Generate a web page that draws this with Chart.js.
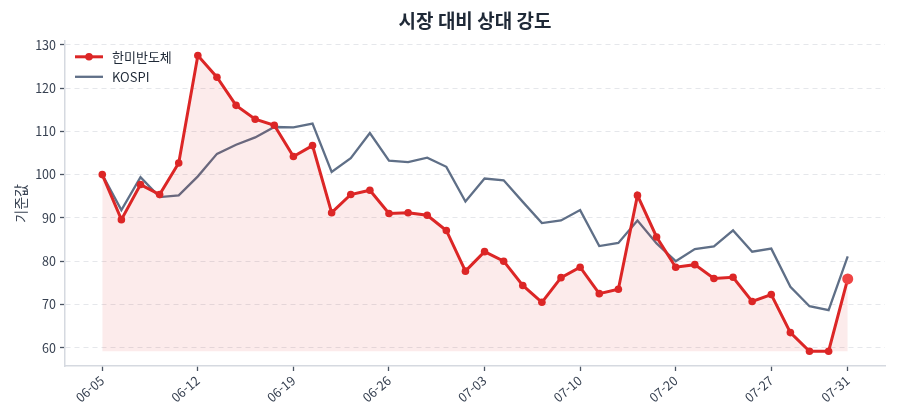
<!DOCTYPE html>
<html lang="ko">
<head>
<meta charset="utf-8">
<title>시장 대비 상대 강도</title>
<script src="https://cdn.jsdelivr.net/npm/chart.js@4.4.1/dist/chart.umd.min.js"></script>
<style>
    html, body { margin: 0; padding: 0; background: #fff; }
    #wrap { width: 900px; height: 420px; position: relative; }
</style>
</head>
<body>
<div id="wrap"><canvas id="rsChart"></canvas></div>
<script>
// 날짜 (거래일)
var dates = [
    '06-05', '06-06', '06-07', '06-10', '06-11', '06-12', '06-13', '06-14', '06-17', '06-18',
    '06-19', '06-20', '06-21', '06-24', '06-25', '06-26', '06-27', '06-28', '07-01', '07-02',
    '07-03', '07-04', '07-05', '07-08', '07-09', '07-10', '07-11', '07-12', '07-15', '07-17',
    '07-20', '07-21', '07-22', '07-23', '07-24', '07-27', '07-28', '07-29', '07-30', '07-31'
];

// 기준값 (첫날 = 100)
var hanmiValues = [
    100.0, 89.6, 97.7, 95.4, 102.7, 127.5, 122.5, 116.0, 112.8, 111.4,
    104.2, 106.7, 91.2, 95.4, 96.4, 91.0, 91.2, 90.6, 87.1, 77.7,
    82.2, 80.0, 74.4, 70.5, 76.2, 78.6, 72.5, 73.5, 95.2, 85.6,
    78.6, 79.2, 76.0, 76.3, 70.7, 72.3, 63.5, 59.2, 59.2, 75.9
];

var kospiValues = [
    100.0, 91.8, 99.4, 94.8, 95.2, 99.6, 104.8, 106.9, 108.6, 111.0,
    110.9, 111.8, 100.6, 103.8, 109.6, 103.2, 102.9, 103.9, 101.8, 93.8,
    99.1, 98.7, 93.7, 88.8, 89.4, 91.8, 83.5, 84.2, 89.4, 84.1,
    80.0, 82.8, 83.4, 87.1, 82.2, 82.9, 74.1, 69.6, 68.7, 81.1
];

var yTickValues = [60, 70, 80, 90, 100, 110, 120, 130];
var xTickIndexes = [0, 5, 10, 15, 20, 25, 30, 35, 39];

var FONT = "'Noto Sans CJK KR', 'Noto Sans', sans-serif";
var RED = '#dc2626';
var SLATE = '#5f6f87';

function toPoints(values) {
    return values.map(function (v, i) { return { x: i, y: v }; });
}

var lastIdx = hanmiValues.length - 1;
var fillBase = Math.min.apply(null, hanmiValues);
var allVals = hanmiValues.concat(kospiValues);
var dataMin = Math.min.apply(null, allVals);
var dataMax = Math.max.apply(null, allVals);
var yPad = (dataMax - dataMin) * 0.05;
var xPad = lastIdx * 0.05;

// 차트 안쪽 왼쪽 위에 범례 그리기
var innerLegend = {
    id: 'innerLegend',
    afterDraw: function (chart) {
        var ctx = chart.ctx;
        var area = chart.chartArea;
        var x0 = area.left + 10;
        var y0 = area.top + 16;
        ctx.save();
        ctx.font = '13px ' + FONT;
        ctx.textBaseline = 'middle';
        chart.data.datasets.forEach(function (ds, i) {
            var y = y0 + i * 20;
            ctx.strokeStyle = ds.borderColor;
            ctx.lineWidth = ds.borderWidth;
            ctx.beginPath();
            ctx.moveTo(x0, y);
            ctx.lineTo(x0 + 28, y);
            ctx.stroke();
            if (ds.legendDot) {
                ctx.fillStyle = ds.borderColor;
                ctx.beginPath();
                ctx.arc(x0 + 14, y, 3.8, 0, Math.PI * 2);
                ctx.fill();
            }
            ctx.fillStyle = '#1f2937';
            ctx.fillText(ds.label, x0 + 37, y);
        });
        ctx.restore();
    }
};

var ctx = document.getElementById('rsChart').getContext('2d');
window.rsChart = new Chart(ctx, {
    type: 'line',
    data: {
        datasets: [{
            label: '한미반도체',
            data: toPoints(hanmiValues),
            borderColor: RED,
            borderWidth: 3,
            backgroundColor: 'rgba(220, 38, 38, 0.09)',
            fill: { value: fillBase },
            tension: 0,
            pointRadius: hanmiValues.map(function (v, i) { return i === lastIdx ? 5.5 : 3.8; }),
            pointBackgroundColor: hanmiValues.map(function (v, i) { return i === lastIdx ? '#ef4444' : RED; }),
            pointBorderWidth: 0,
            legendDot: true
        }, {
            label: 'KOSPI',
            data: toPoints(kospiValues),
            borderColor: SLATE,
            borderWidth: 2.3,
            fill: false,
            tension: 0,
            pointRadius: 0
        }]
    },
    options: {
        responsive: true,
        maintainAspectRatio: false,
        animation: false,
        events: [],
        layout: { padding: { top: 0, right: 15, bottom: 0, left: 0 } },
        plugins: {
            legend: { display: false },
            tooltip: { enabled: false },
            title: {
                display: true,
                text: '시장 대비 상대 강도',
                fullSize: false,
                color: '#1f2937',
                font: { family: FONT, size: 19, weight: 'bold' },
                padding: { top: 9, bottom: 9 }
            }
        },
        scales: {
            x: {
                type: 'linear',
                min: -xPad,
                max: lastIdx + xPad,
                afterBuildTicks: function (scale) {
                    scale.ticks = xTickIndexes.map(function (v) { return { value: v }; });
                },
                afterFit: function (scale) { scale.height = 54; },
                ticks: {
                    autoSkip: false,
                    minRotation: 40,
                    maxRotation: 40,
                    padding: 2,
                    color: '#374151',
                    font: { family: FONT, size: 12.5 },
                    callback: function (value) { return dates[value]; }
                },
                grid: {
                    drawOnChartArea: false,
                    drawTicks: true,
                    tickLength: 5,
                    tickColor: '#4b5563',
                    tickWidth: 1.3
                },
                border: { display: true, color: '#d5d9e0', width: 1.5 }
            },
            y: {
                min: dataMin - yPad,
                max: dataMax + yPad,
                afterBuildTicks: function (scale) {
                    scale.ticks = yTickValues.map(function (v) { return { value: v }; });
                },
                afterFit: function (scale) { scale.width = 65; },
                ticks: {
                    padding: 4,
                    color: '#374151',
                    font: { family: FONT, size: 12.5 }
                },
                grid: {
                    color: '#e5e7eb',
                    lineWidth: 1,
                    tickLength: 5,
                    tickColor: '#4b5563',
                    tickWidth: 1.3
                },
                border: { display: true, color: '#d5d9e0', width: 1.5, dash: [5, 4] },
                title: {
                    display: true,
                    text: '기준값',
                    color: '#374151',
                    font: { family: FONT, size: 14 },
                    padding: { top: 12, bottom: 0 }
                }
            }
        }
    },
    plugins: [innerLegend]
});
</script>
</body>
</html>
